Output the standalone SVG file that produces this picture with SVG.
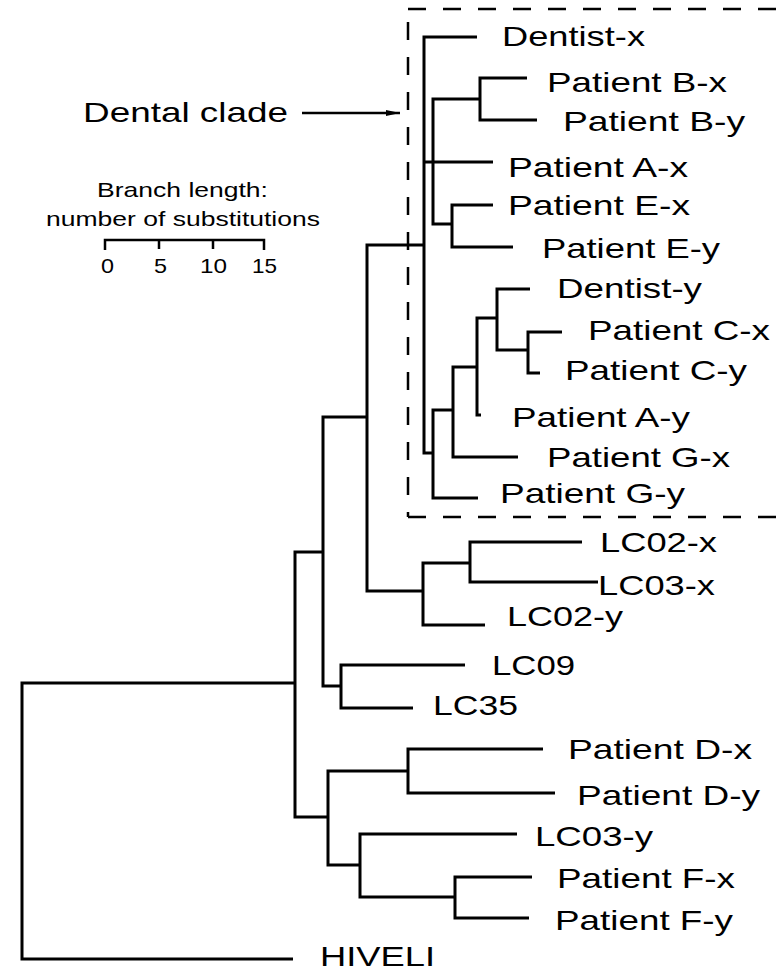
<svg xmlns="http://www.w3.org/2000/svg" width="779" height="974" viewBox="0 0 779 974">
<defs>
<style>
.lbl{font-family:"Liberation Sans",Arial,Helvetica,sans-serif;font-size:28px;fill:#000}
.sm{font-family:"Liberation Sans",Arial,Helvetica,sans-serif;font-size:21px;fill:#000}
.br{fill:none;stroke:#000;stroke-width:3;stroke-linejoin:miter;stroke-linecap:butt}
.dash{fill:none;stroke:#000;stroke-width:2.5;stroke-dasharray:18 17}
</style>
<marker id="ah" markerWidth="14" markerHeight="8" refX="14" refY="4" orient="auto" markerUnits="userSpaceOnUse">
<path d="M0,1 L14,4 L0,7 Z" fill="#000"/>
</marker>
</defs>
<rect width="779" height="974" fill="#fff"/>

<g id="dental-box">
<path class="dash" d="M408,9 H779"/>
<path class="dash" d="M408,22 V517"/>
<path class="dash" d="M408,517 H779"/>
</g>

<g id="connectors" class="br">
<path class="br" d="M295,683 H22 V959 H293"/>
<path class="br" d="M323,552 H295 V817 H328"/>
<path class="br" d="M367,417 H323 V686 H341"/>
<path class="br" d="M465,665 H341 V708 H413"/>
<path class="br" d="M424,245 H367 V591 H423"/>
<path class="br" d="M470,563 H423 V625 H485"/>
<path class="br" d="M582,542 H470 V582 H598"/>
<path class="br" d="M477,37 H424 V453 H433"/>
<path class="br" d="M424,162 H493"/>
<path class="br" d="M480,99 H433 V224 H452"/>
<path class="br" d="M527,78 H480 V120 H537"/>
<path class="br" d="M493,205 H452 V247 H513"/>
<path class="br" d="M453,410 H433 V498 H478"/>
<path class="br" d="M477,367 H453 V457 H518"/>
<path class="br" d="M497,318 H477 V415 H481"/>
<path class="br" d="M530,289 H497 V350 H528"/>
<path class="br" d="M562,332 H528 V373 H540"/>
<path class="br" d="M408,771 H328 V865 H360"/>
<path class="br" d="M543,749 H408 V793 H555"/>
<path class="br" d="M517,834 H360 V897 H455"/>
<path class="br" d="M532,877 H455 V918 H529"/>
<path d="M302,113 H400" fill="none" stroke="#000" stroke-width="2.5" marker-end="url(#ah)"/>
</g>

<g id="legend">
<text class="lbl" x="83" y="122" textLength="205" lengthAdjust="spacingAndGlyphs">Dental clade</text>
<text class="sm" x="97" y="197" textLength="171" lengthAdjust="spacingAndGlyphs">Branch length:</text>
<text class="sm" x="46" y="226" textLength="274" lengthAdjust="spacingAndGlyphs">number of substitutions</text>
<path d="M105,250 V240 H264 V250 M159,240 V249 M213,240 V249" fill="none" stroke="#000" stroke-width="2.5"/>
<text class="sm" x="101" y="273" textLength="13" lengthAdjust="spacingAndGlyphs">0</text>
<text class="sm" x="154" y="273" textLength="13" lengthAdjust="spacingAndGlyphs">5</text>
<text class="sm" x="200" y="273" textLength="27" lengthAdjust="spacingAndGlyphs">10</text>
<text class="sm" x="252" y="273" textLength="25" lengthAdjust="spacingAndGlyphs">15</text>
</g>

<g id="n-dentist-x"><text class="lbl" x="502" y="46" textLength="143" lengthAdjust="spacingAndGlyphs">Dentist-x</text></g>
<g id="n-patient-b-x"><text class="lbl" x="547" y="92" textLength="180" lengthAdjust="spacingAndGlyphs">Patient B-x</text></g>
<g id="n-patient-b-y"><text class="lbl" x="563" y="131" textLength="182" lengthAdjust="spacingAndGlyphs">Patient B-y</text></g>
<g id="n-patient-a-x"><text class="lbl" x="508" y="177" textLength="180" lengthAdjust="spacingAndGlyphs">Patient A-x</text></g>
<g id="n-patient-e-x"><text class="lbl" x="508" y="215" textLength="182" lengthAdjust="spacingAndGlyphs">Patient E-x</text></g>
<g id="n-patient-e-y"><text class="lbl" x="542" y="258" textLength="178" lengthAdjust="spacingAndGlyphs">Patient E-y</text></g>
<g id="n-dentist-y"><text class="lbl" x="557" y="298" textLength="145" lengthAdjust="spacingAndGlyphs">Dentist-y</text></g>
<g id="n-patient-c-x"><text class="lbl" x="588" y="340" textLength="182" lengthAdjust="spacingAndGlyphs">Patient C-x</text></g>
<g id="n-patient-c-y"><text class="lbl" x="565" y="380" textLength="182" lengthAdjust="spacingAndGlyphs">Patient C-y</text></g>
<g id="n-patient-a-y"><text class="lbl" x="512" y="427" textLength="178" lengthAdjust="spacingAndGlyphs">Patient A-y</text></g>
<g id="n-patient-g-x"><text class="lbl" x="547" y="467" textLength="183" lengthAdjust="spacingAndGlyphs">Patient G-x</text></g>
<g id="n-patient-g-y"><text class="lbl" x="500" y="503" textLength="185" lengthAdjust="spacingAndGlyphs">Patient G-y</text></g>
<g id="n-lc02-x"><text class="lbl" x="600" y="552" textLength="117" lengthAdjust="spacingAndGlyphs">LC02-x</text></g>
<g id="n-lc03-x"><text class="lbl" x="598" y="595" textLength="117" lengthAdjust="spacingAndGlyphs">LC03-x</text></g>
<g id="n-lc02-y"><text class="lbl" x="507" y="626" textLength="116" lengthAdjust="spacingAndGlyphs">LC02-y</text></g>
<g id="n-lc09"><text class="lbl" x="492" y="675" textLength="83" lengthAdjust="spacingAndGlyphs">LC09</text></g>
<g id="n-lc35"><text class="lbl" x="433" y="715" textLength="85" lengthAdjust="spacingAndGlyphs">LC35</text></g>
<g id="n-patient-d-x"><text class="lbl" x="568" y="759" textLength="184" lengthAdjust="spacingAndGlyphs">Patient D-x</text></g>
<g id="n-patient-d-y"><text class="lbl" x="577" y="805" textLength="183" lengthAdjust="spacingAndGlyphs">Patient D-y</text></g>
<g id="n-lc03-y"><text class="lbl" x="535" y="846" textLength="118" lengthAdjust="spacingAndGlyphs">LC03-y</text></g>
<g id="n-patient-f-x"><text class="lbl" x="557" y="888" textLength="178" lengthAdjust="spacingAndGlyphs">Patient F-x</text></g>
<g id="n-patient-f-y"><text class="lbl" x="555" y="930" textLength="178" lengthAdjust="spacingAndGlyphs">Patient F-y</text></g>
<g id="n-hiveli"><text class="lbl" x="320" y="966" textLength="115" lengthAdjust="spacingAndGlyphs">HIVELI</text></g>
</svg>
